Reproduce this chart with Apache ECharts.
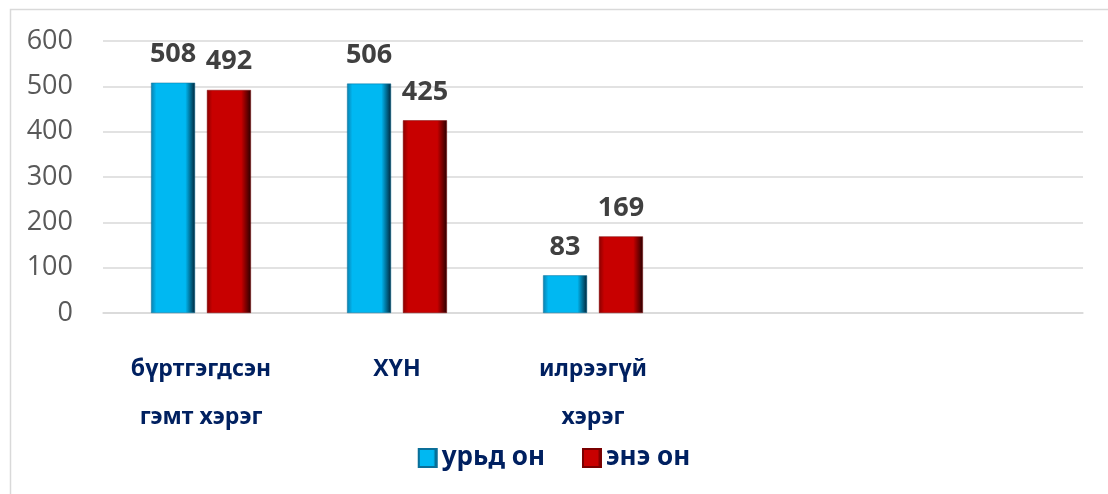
<!DOCTYPE html>
<html>
<head>
<meta charset="utf-8">
<script src="https://cdn.jsdelivr.net/npm/echarts@6/dist/echarts.min.js"></script>
<style>
  html, body { margin: 0; padding: 0; background: #fff; }
  #main { width: 1108px; height: 494px; }
</style>
</head>
<body>
<div id="main"></div>
<script>
// categories (last two are empty slots on the axis)
const categories = ['бүртгэгдсэн\nгэмт хэрэг', 'ХҮН', 'илрээгүй\nхэрэг', '', ''];
const seriesNames = ['урьд он', 'энэ он'];
const lastYear = [508, 506, 83, null, null];
const thisYear = [492, 425, 169, null, null];
const yTicks = [0, 100, 200, 300, 400, 500, 600];

// bevel-ish look: dark edges, bright face
function bevel(edgeL, face, edgeR) {
  return new echarts.graphic.LinearGradient(0, 0, 1, 0, [
    { offset: 0, color: edgeL },
    { offset: 0.12, color: face },
    { offset: 0.78, color: face },
    { offset: 1, color: edgeR }
  ]);
}

const chart = echarts.init(document.getElementById('main'));

const labelStyle = {
  show: true,
  position: 'top',
  distance: 15,
  color: '#404040',
  fontSize: 27,
  fontWeight: 'bold',
  fontFamily: 'Open Sans'
};

const option = {
  animation: false,
  graphic: [{
    type: 'rect',
    left: 8, top: 7,
    shape: { width: 1200, height: 600 },
    style: { fill: 'none', stroke: '#d9d9d9', lineWidth: 1.5 },
    silent: true
  }],
  grid: { left: 103, right: 25, top: 41, bottom: 181 },
  legend: {
    data: seriesNames,
    left: 'center',
    top: 440,
    icon: 'rect',
    itemWidth: 18,
    itemHeight: 18,
    itemGap: 37,
    textStyle: { color: '#002060', fontSize: 26, fontWeight: 'bold', fontFamily: 'Noto Sans' }
  },
  xAxis: {
    type: 'category',
    data: categories,
    axisLine: { lineStyle: { color: '#d9d9d9', width: 1.5 } },
    axisTick: { show: false },
    axisLabel: {
      interval: 0,
      margin: 32,
      color: '#002060',
      fontSize: 23,
      fontWeight: 'bold',
      lineHeight: 48,
      fontFamily: 'Noto Sans'
    }
  },
  yAxis: {
    type: 'value',
    min: yTicks[0],
    max: yTicks[yTicks.length - 1],
    interval: 100,
    axisLine: { show: false },
    axisTick: { show: false },
    splitLine: { lineStyle: { color: '#d9d9d9', width: 1.5 } },
    axisLabel: { color: '#595959', fontSize: 27, margin: 30, fontFamily: 'Open Sans' }
  },
  series: [
    {
      name: seriesNames[0],
      type: 'bar',
      data: lastYear,
      barWidth: 44,
      barGap: '27%',
      itemStyle: { color: bevel('#0a7fae', '#00b8f2', '#01263a'), borderColor: '#0a6f99', borderWidth: 0.5 },
      label: labelStyle
    },
    {
      name: seriesNames[1],
      type: 'bar',
      data: thisYear,
      barWidth: 44,
      itemStyle: { color: bevel('#8a0000', '#c80000', '#2a0000'), borderColor: '#7a0000', borderWidth: 0.5 },
      label: labelStyle
    }
  ]
};

chart.setOption(option);
</script>
</body>
</html>
